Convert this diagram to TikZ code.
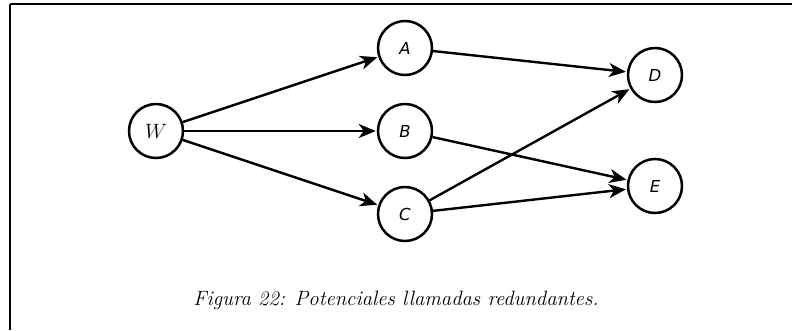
\documentclass[tikz,border=0pt]{standalone}
\usepackage{fontspec}
\newfontfamily\nodefont{DejaVu Sans}
\usetikzlibrary{arrows.meta}
\tikzset{
  vert/.style={circle, draw, line width=2.5pt, minimum size=54pt, inner sep=0pt, font=\nodefont\itshape\fontsize{16.5}{18}\selectfont},
  edge/.style={line width=2.4pt, -{Stealth[length=17pt,width=14pt,inset=5pt]}, shorten >=1pt},
  frame/.style={line width=2.4pt}
}
\begin{document}
\begin{tikzpicture}[x=1pt,y=-1pt]
\useasboundingbox (0,0) rectangle (792,330);
\draw[frame] (10,4) -- (792,4);
\draw[frame] (10,4) -- (10,330);
\node[vert, font=\fontsize{22}{24}\selectfont] (W) at (156,131) {$W$};
\node[vert] (A) at (405,48) {A};
\node[vert] (B) at (405,131) {B};
\node[vert] (C) at (405,214) {C};
\node[vert] (D) at (655,75) {D};
\node[vert] (E) at (655,186) {E};
\draw[edge] (W) -- (A);
\draw[edge] (W) -- (B);
\draw[edge] (W) -- (C);
\draw[edge] (A) -- (D);
\draw[edge] (B) -- (E);
\draw[edge] (C) -- (D);
\draw[edge] (C) -- (E);
\node[anchor=base, font=\itshape\fontsize{20.7}{24}\selectfont] (cap) at (396,305) {Figura 22: Potenciales llamadas redundantes.};
\end{tikzpicture}
\end{document}
